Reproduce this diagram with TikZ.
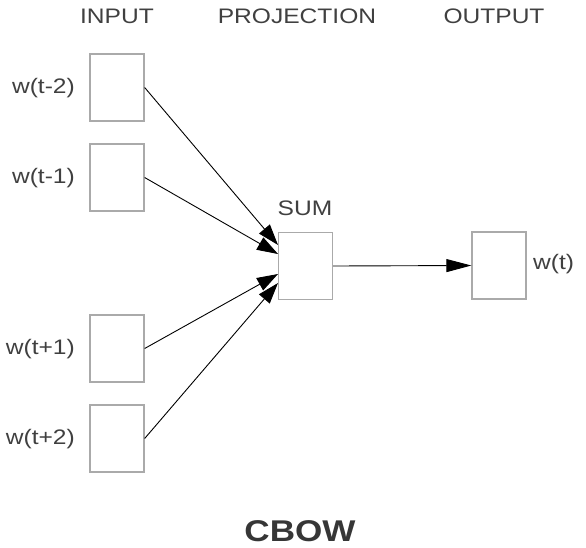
\documentclass[tikz,border=0pt]{standalone}
\usepackage{fontspec}
\setmainfont[FakeStretch=1.17]{Liberation Sans}
\usetikzlibrary{arrows.meta}
\definecolor{txt}{HTML}{404040}
\definecolor{boxc}{HTML}{AAAAAA}
\begin{document}
\begin{tikzpicture}[x=1pt,y=-1pt,
  unit/.style={draw=boxc,line width=1.3pt,minimum width=54pt,minimum height=67pt,inner sep=0pt,fill=white},
  lab/.style={text=txt,font=\fontsize{21}{24}\selectfont,inner sep=0pt},
  conn/.style={line width=0.9pt,black,-{Triangle[length=21pt,width=14pt]}},
  connout/.style={line width=0.9pt,black,-{Triangle[length=25pt,width=13pt]}}]
\useasboundingbox (0,0) rectangle (586,547);
% headings
\node[lab] (hin) at (117,16) {INPUT};
\node[lab] (hproj) at (297,16) {PROJECTION};
\node[lab] (hout) at (494,16) {OUTPUT};
% input boxes
\node[unit] (a1) at (117,87.5) {};
\node[unit] (a2) at (117,177.5) {};
\node[unit] (a3) at (117,348.5) {};
\node[unit] (a4) at (117,438.5) {};
\node[lab,anchor=east] (l1) at (75,88) {w(t-2)};
\node[lab,anchor=east] (l2) at (75,178) {w(t-1)};
\node[lab,anchor=east] (l3) at (75,349) {w(t+1)};
\node[lab,anchor=east] (l4) at (75,439) {w(t+2)};
% projection
\node[unit] (sum) at (305.5,266) {};
\node[lab] (sumlab) at (305,208) {SUM};
% output
\node[unit] (out) at (499,265.5) {};
\node[lab,anchor=west] (outlab) at (533,264) {w(t)};
% targets
\coordinate (t1) at (278,245);
\coordinate (t2) at (278,254);
\coordinate (t3) at (278,274);
\coordinate (t4) at (278,283);
\draw[conn] (a1.east) -- (t1);
\draw[conn] (a2.east) -- (t2);
\draw[conn] (a3.east) -- (t3);
\draw[conn] (a4.east) -- (t4);
\draw[connout] (sum.east) -- (out.west);
% title
\node[text=txt!85!black,font=\fontsize{30}{34}\selectfont\bfseries,inner sep=0pt] (title) at (300,531) {CBOW};
\end{tikzpicture}
\end{document}
